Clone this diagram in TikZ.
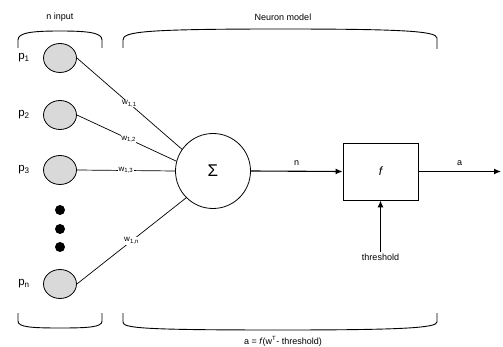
\documentclass[tikz,border=0pt]{standalone}
\usepackage{fontspec}
\setmainfont{Liberation Sans}
\usetikzlibrary{arrows.meta,shapes.geometric}
\begin{document}
\begin{tikzpicture}[x=1pt,y=-1pt,
  inp/.style={draw, ellipse, fill=gray!30, minimum width=33pt, minimum height=29pt, inner sep=0pt, line width=0.8pt},
  dotn/.style={circle, fill=black, minimum size=10pt, inner sep=0pt},
  lbl/.style={font=\fontsize{9}{10}\selectfont, inner sep=1pt},
  plbl/.style={font=\fontsize{11.5}{12}\selectfont, inner sep=1pt},
  wl/.style={font=\fontsize{8}{9}\selectfont, fill=white, inner sep=0.5pt},
  conn/.style={line width=0.7pt},
  arr/.style={line width=1.1pt, -{Latex[length=7pt,width=6pt]}},
  brace/.style={line width=0.9pt}]
\useasboundingbox (0,0) rectangle (503,347);
% input nodes
\node[inp] (p1) at (60,58) {};
\node[inp] (p2) at (60,115) {};
\node[inp] (p3) at (60,170) {};
\node[inp] (pn) at (60,284) {};
\node[dotn] (d1) at (60,210) {};
\node[dotn] (d2) at (60,229) {};
\node[dotn] (d3) at (60,247) {};
\node[plbl] (l1) at (24,58) {p\textsubscript{1}};
\node[plbl] (l2) at (24,115) {p\textsubscript{2}};
\node[plbl] (l3) at (24,170) {p\textsubscript{3}};
\node[plbl] (ln) at (24,284) {p\textsubscript{n}};
% sum
\node[draw, circle, minimum size=75pt, inner sep=0pt, line width=0.8pt] (sum) at (213,171) {\fontsize{17}{18}\selectfont Σ};
% connections
\draw[conn] (p1.east) -- (sum.145) node[wl, pos=0.5] {w\textsubscript{1,1}};
\draw[conn] (p2.east) -- (sum.165) node[wl, pos=0.52] {w\textsubscript{1,2}};
\draw[conn] (p3.east) -- (sum.west) node[wl, pos=0.5] {w\textsubscript{1,3}};
\draw[conn] (pn.east) -- (sum.225) node[wl, pos=0.5] {w\textsubscript{1,n}};
% f box
\node[draw, minimum width=75pt, minimum height=57pt, line width=0.9pt] (f) at (380.5,171.5) {\fontsize{12}{13}\selectfont\itshape f};
\coordinate (out) at (501,171.5);
\node[lbl] (thr) at (380.5,257) {threshold};
\draw[arr] (sum.east) -- (f.west) node[lbl, midway, above=4pt] {n};
\draw[arr] (f.east) -- (out) node[lbl, midway, above=4pt] {a};
\draw[arr] (thr.north) -- (f.south);
% braces
\draw[brace] (18,48) -- (18,40) .. controls (18,33) and (30,31) .. (60,31) .. controls (90,31) and (102,33) .. (102,40) -- (102,48);
\draw[brace] (123,48) -- (123,40) .. controls (123,32) and (140,29) .. (280,29) .. controls (400,29) and (437,31) .. (437,38) -- (437,49);
\draw[brace] (18,313) -- (18,321) .. controls (18,327) and (30,328) .. (60,328) .. controls (90,328) and (102,327) .. (102,321) -- (102,313);
\draw[brace] (123,313) -- (123,322) .. controls (123,328) and (140,330) .. (280,330) .. controls (400,330) and (437,328) .. (437,322) -- (437,313);
\node[lbl] (tin) at (60,17) {n input};
\node[lbl] (tnm) at (283,17) {Neuron model};
\node[lbl] (tf) at (283,341) {a = \textit{f}(w\textsuperscript{T}- threshold)};
\end{tikzpicture}
\end{document}
